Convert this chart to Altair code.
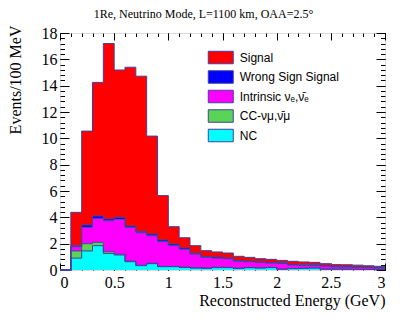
import altair as alt
import pandas as pd

# ---------------- data ----------------
energy_low = [0.1, 0.2, 0.3, 0.4, 0.5, 0.6, 0.7, 0.8, 0.9, 1.0,
              1.1, 1.2, 1.3, 1.4, 1.5, 1.6, 1.7, 1.8, 1.9, 2.0,
              2.1, 2.2, 2.3, 2.4, 2.5, 2.6, 2.7, 2.8, 2.9]
bin_width = 0.1

signal = [2.53, 7.13, 10.15, 13.33, 11.19, 12.06, 11.79, 7.44, 3.37, 1.32,
          0.78, 0.57, 0.44, 0.39, 0.37, 0.32, 0.28, 0.23, 0.23, 0.18,
          0.23, 0.22, 0.19, 0.14, 0.14, 0.14, 0.14, 0.11, 0.10]
wrong_sign = [0.08, 0.18, 0.18, 0.13, 0.15, 0.10, 0.10, 0.13, 0.13, 0.12,
              0.10, 0.08, 0.07, 0.07, 0.06, 0.06, 0.05, 0.05, 0.05, 0.05,
              0.05, 0.04, 0.04, 0.04, 0.04, 0.04, 0.03, 0.03, 0.03]
intrinsic = [0.32, 1.24, 1.82, 2.35, 2.65, 2.57, 2.47, 2.09, 1.87, 1.58,
             1.35, 1.03, 0.81, 0.71, 0.66, 0.52, 0.44, 0.41, 0.33, 0.43,
             0.26, 0.21, 0.18, 0.23, 0.16, 0.16, 0.15, 0.13, 0.11]
cc_numu = [0.55, 0.55, 0.25, 0.13, 0.06, 0.04, 0.03, 0.03, 0.03, 0.02,
           0.02, 0.02, 0.02, 0.02, 0.02, 0.02, 0.02, 0.02, 0.02, 0.02,
           0.02, 0.02, 0.02, 0.02, 0.02, 0.01, 0.01, 0.01, 0.01]
nc = [0.90, 1.45, 1.85, 1.26, 1.14, 0.63, 0.33, 0.48, 0.25, 0.25,
      0.20, 0.15, 0.13, 0.18, 0.18, 0.12, 0.17, 0.15, 0.18, 0.05,
      0.10, 0.12, 0.15, 0.05, 0.05, 0.05, 0.04, 0.04, 0.03]

components = ["Signal", "Wrong Sign Signal", "Intrinsic \u03bd\u2091,\u03bd\u0304\u2091",
              "CC-\u03bd\u03bc,\u03bd\u0304\u03bc", "NC"]
colors = ["#ff0000", "#0000ff", "#ff00ff", "#59d454", "#00ffff"]
series = [signal, wrong_sign, intrinsic, cc_numu, nc]

x_major = [0, 0.5, 1, 1.5, 2, 2.5, 3]
x_minor = [round(i * 0.1, 2) for i in range(31)]
y_major = [0, 2, 4, 6, 8, 10, 12, 14, 16, 18]
y_minor = [round(i * 0.4, 2) for i in range(46)]

title_text = "1Re, Neutrino Mode, L=1100 km, OAA=2.5\u00b0"
x_title = "Reconstructed Energy (GeV)"
y_title = "Events/100 MeV"

# ---------------- table ----------------
rows = []
n = len(components)
for i, (name, vals) in enumerate(zip(components, series)):
    rank = n - 1 - i  # NC at the bottom of the stack
    rows.append({"x": 0.0, "value": 0.0, "component": name, "k": rank})
    for e, v in zip(energy_low, vals):
        rows.append({"x": e, "value": v, "component": name, "k": rank})
    rows.append({"x": round(energy_low[-1] + bin_width, 2), "value": vals[-1],
                 "component": name, "k": rank})
df = pd.DataFrame(rows)

W, H = 325, 237
SERIF = "Liberation Serif"
LINE = "#4040a0"

xs = alt.Scale(domain=[0, 3], nice=False, zero=False)
ys = alt.Scale(domain=[0, 18], nice=False)

base = alt.Chart(df).transform_stack(
    stack="value", groupby=["x"], as_=["y0", "y1"],
    sort=[alt.SortField("k", order="ascending")]
)

main_x_axis = alt.Axis(values=x_major, format="~g", labelFont=SERIF, labelFontSize=16,
                       labelColor="black", labelPadding=4, ticks=False, domain=False,
                       grid=False, title=x_title, titleFont=SERIF, titleFontSize=16,
                       titleFontWeight="normal", titleColor="black", titleAnchor="end",
                       titleAlign="right", titleX=W, titleY=35, titleBaseline="alphabetic")
main_y_axis = alt.Axis(values=y_major, format="d", labelFont=SERIF, labelFontSize=16,
                       labelColor="black", labelPadding=3, ticks=False, domain=False,
                       grid=False, title=y_title, titleFont=SERIF, titleFontSize=16,
                       titleFontWeight="normal", titleColor="black", titleAngle=270,
                       titleAlign="right", titleX=-40, titleY=-8, titleBaseline="alphabetic")

legend = alt.Legend(orient="none", legendX=153.75, legendY=17.5, title=None,
                    symbolType="M-2,-1L2,-1L2,1L-2,1Z", symbolSize=156.25,
                    symbolOpacity=1, symbolStrokeColor=LINE, symbolStrokeWidth=1,
                    labelFont="Liberation Sans", labelFontSize=12, labelColor="black",
                    labelOffset=12, rowPadding=1.5, padding=0)

areas = base.mark_area(interpolate="step-after", opacity=1).encode(
    x=alt.X("x:Q", scale=xs, axis=main_x_axis),
    y=alt.Y("y1:Q", scale=ys, axis=main_y_axis),
    y2="y0:Q",
    color=alt.Color("component:N", scale=alt.Scale(domain=components, range=colors),
                    legend=legend),
)

outlines = base.mark_line(interpolate="step-after", color=LINE, strokeWidth=1).encode(
    x=alt.X("x:Q", scale=xs, axis=None),
    y=alt.Y("y1:Q", scale=ys, axis=None),
    detail="component:N",
)


def tick_layer(xorient, yorient, xvals, yvals, xsize, ysize):
    return base.mark_point(opacity=0).encode(
        x=alt.X("x:Q", scale=xs,
                axis=alt.Axis(orient=xorient, offset=-H, values=xvals, tickSize=xsize,
                              tickColor="black", tickWidth=1, labels=False, domain=False,
                              grid=False, title=None)),
        y=alt.Y("y1:Q", scale=ys,
                axis=alt.Axis(orient=yorient, offset=-W, values=yvals, tickSize=ysize,
                              tickColor="black", tickWidth=1, labels=False, domain=False,
                              grid=False, title=None)),
    )


t1 = tick_layer("top", "right", x_major, y_major, 7, 9)
t2 = tick_layer("top", "right", x_minor, y_minor, 3.5, 4.5)
t3 = tick_layer("bottom", "left", x_major, y_major, 7, 9)
t4 = tick_layer("bottom", "left", x_minor, y_minor, 3.5, 4.5)

chart = alt.layer(areas, outlines, t1, t2, t3, t4).resolve_axis(
    x="independent", y="independent"
).properties(
    width=W, height=H,
    autosize=alt.AutoSizeParams(type="none"),
    padding={"left": 52, "top": 25, "right": 14, "bottom": 44},
    title=alt.TitleParams(title_text, font=SERIF, fontSize=12, fontWeight="normal",
                          color="black", anchor="middle", frame="group", dx=-19, offset=4),
).configure_view(stroke="black", strokeWidth=1).configure(background="white")

chart.save("out.html", embed_options={"renderer": "svg", "actions": False})
